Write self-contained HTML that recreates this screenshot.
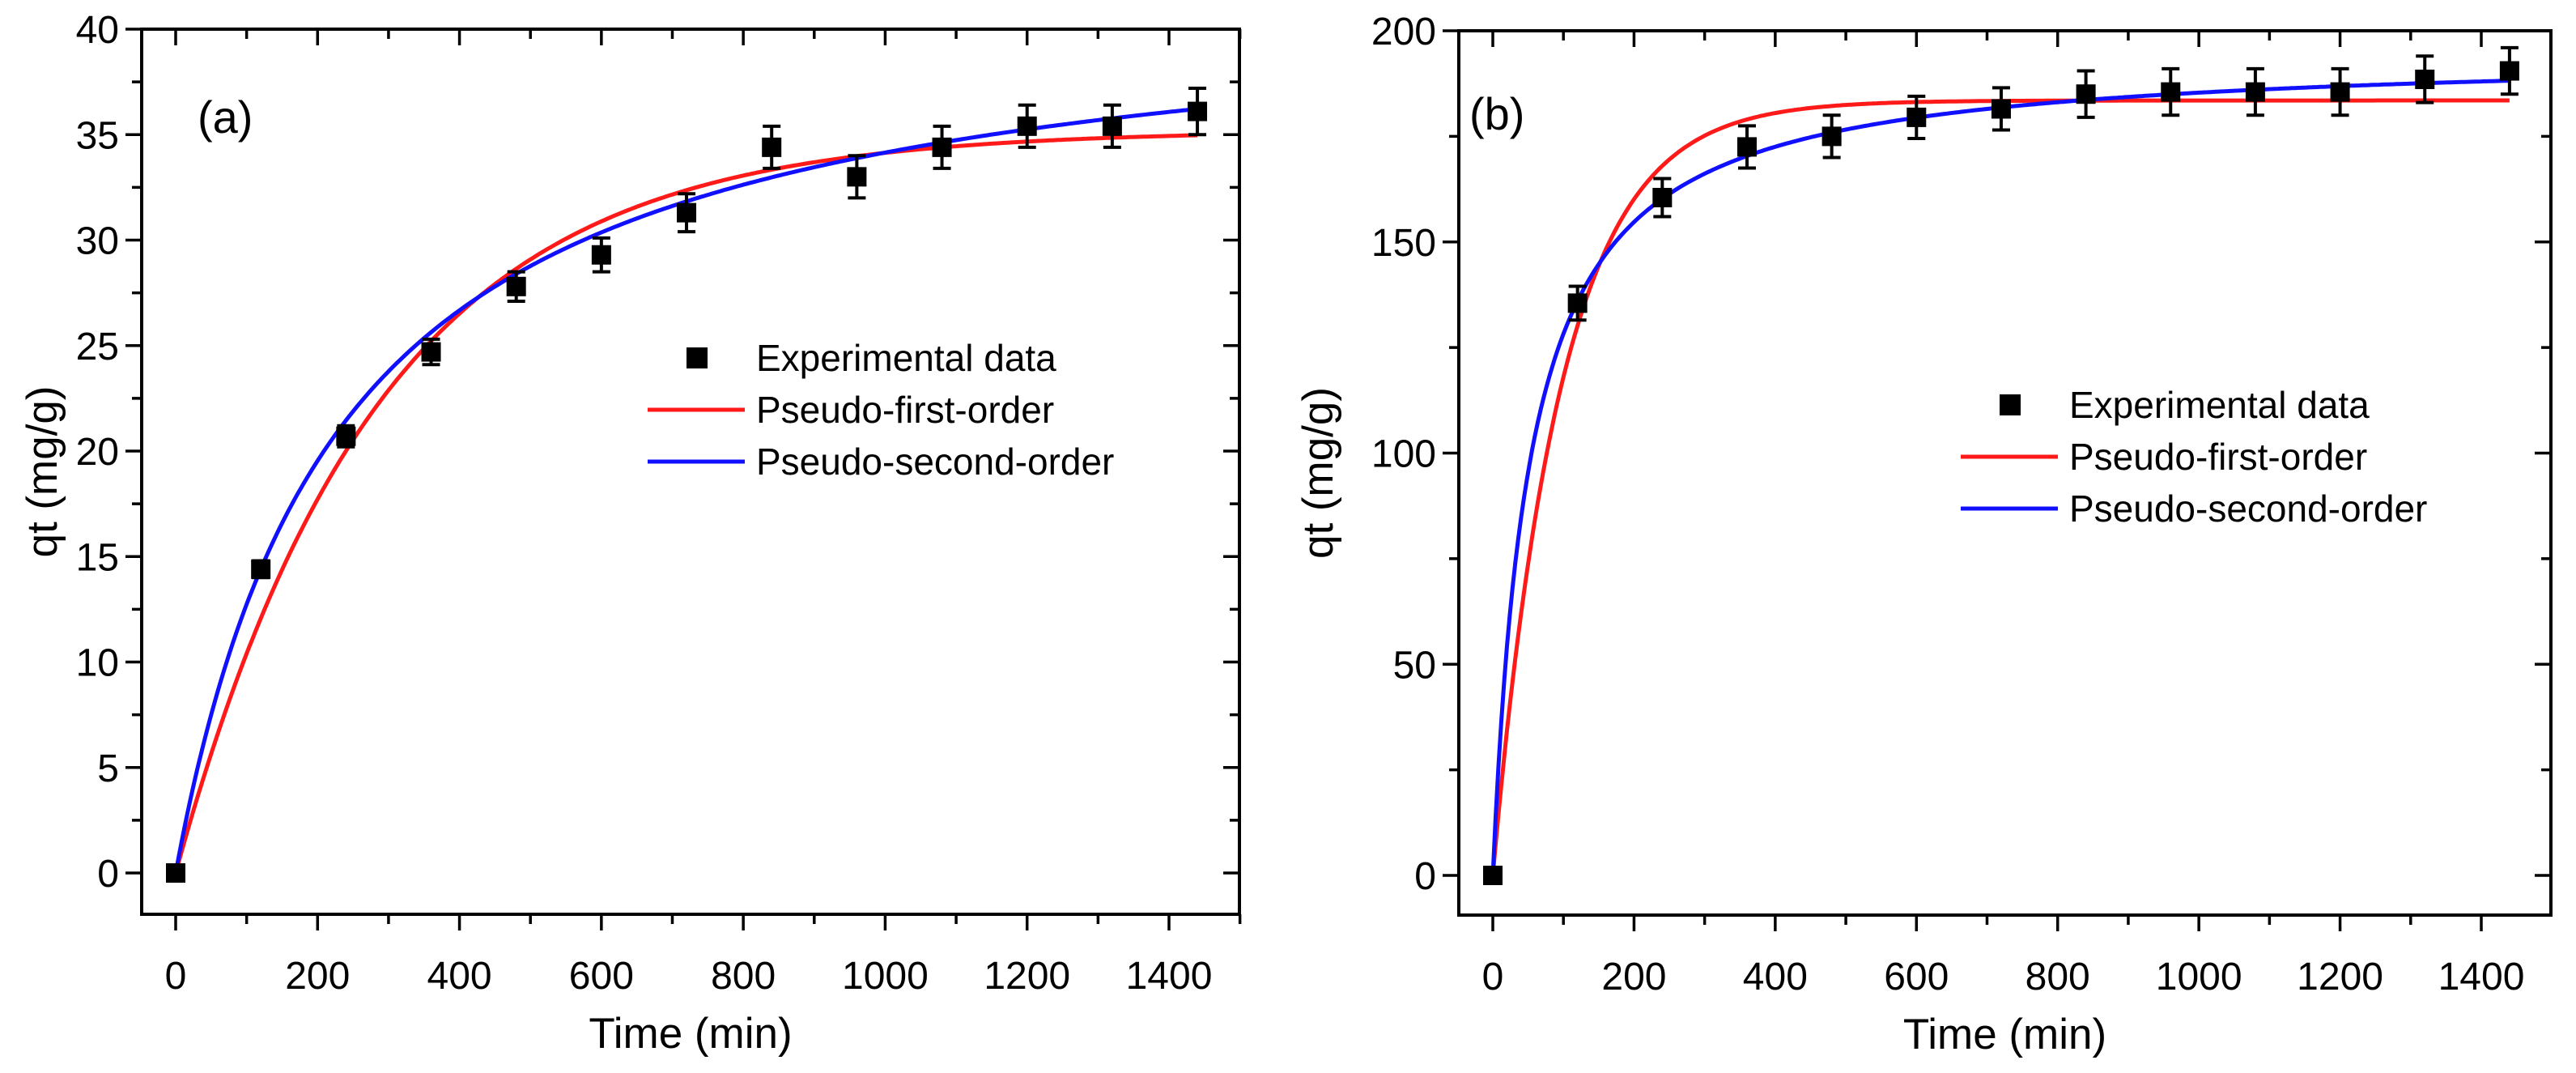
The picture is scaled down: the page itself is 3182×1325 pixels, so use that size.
<!DOCTYPE html>
<html><head><meta charset="utf-8"><style>
html,body{margin:0;padding:0;background:#fff;}
svg{display:block;font-family:"Liberation Sans",Arial,sans-serif;}
</style></head><body>
<svg id="chart" width="3182" height="1325" viewBox="0 0 3182 1325" xmlns="http://www.w3.org/2000/svg"></svg>
<script>
const times = [0,120,240,360,480,600,720,840,960,1080,1200,1320,1440];
const qA = [0,14.4,20.7,24.7,27.8,29.3,31.3,34.4,33.0,34.4,35.4,35.4,36.1];
const errA = [0.2,0.4,0.5,0.6,0.7,0.8,0.9,1.0,1.0,1.0,1.0,1.0,1.1];
const qB = [0,135.5,160.5,172.5,175,179.5,181.5,185,185.5,185.5,185.5,188.5,190.5];
const errB = [1,4,4.5,5,5,5,5,5.5,5.5,5.5,5.5,5.5,5.5];
const pfoA = [35.2, 0.0035];   // qe, k1
const psoA = [42.0, 0.00435];  // qe, qe*k2
const pfoB = [183.5, 0.0103];
const psoB = [195.0, 0.0192];
const xTicks = [0,200,400,600,800,1000,1200,1400];
const yTicksA = [0,5,10,15,20,25,30,35,40];
const yTicksB = [0,50,100,150,200];

const NS="http://www.w3.org/2000/svg";
const svg=document.getElementById('chart');
function mk(tag,attrs,parent){const e=document.createElementNS(NS,tag);for(const k in attrs)e.setAttribute(k,attrs[k]);(parent||svg).appendChild(e);return e;}

function panel(cfg){
  const g=mk('g',{});
  
  
  const sx=v=>cfg.x0+(v-0)*(cfg.x1400-cfg.x0)/1400;
  const sy=v=>cfg.y0+(v)*(cfg.yTop-cfg.y0)/cfg.ymax;
  const L=cfg.left,R=cfg.right,T=cfg.top,B=cfg.bottom;
  const fr=mk('rect',{x:L,y:T,width:R-L,height:B-T,fill:'none',stroke:'#000','stroke-width':4},g);
  
  
  for(let v=-100;v<=1500;v+=100){
    const x=sx(v); if(x<L-1||x>R+1) continue;
    const major=v%200===0, len=major?20:12;
    mk('line',{x1:x,y1:B,x2:x,y2:B+len,stroke:'#000','stroke-width':3.5},g);
    mk('line',{x1:x,y1:T,x2:x,y2:T+len,stroke:'#000','stroke-width':3.5},g);
  }
  xTicks.forEach(v=>{
    const t=mk('text',{x:sx(v),y:B+92,'font-size':48,'text-anchor':'middle'},g);
    t.textContent=v;
    
    
  });
  const step=cfg.ystep/2;
  for(let v=-step;v<=cfg.ymax;v+=step){
    const y=sy(v); if(y>B+1||y<T-1) continue;
    const major=Math.abs(v/cfg.ystep-Math.round(v/cfg.ystep))<1e-6, len=major?20:12;
    mk('line',{x1:L,y1:y,x2:L-len,y2:y,stroke:'#000','stroke-width':3.5},g);
    mk('line',{x1:R,y1:y,x2:R-len,y2:y,stroke:'#000','stroke-width':3.5},g);
  }
  cfg.yTicks.forEach(v=>{
    const t=mk('text',{x:L-28,y:sy(v)+17,'font-size':48,'text-anchor':'end'},g);
    t.textContent=v;
    
    
  });
  function curve(fn,color,name){
    let d='';
    for(let t=0;t<=1440;t+=4){d+=(t?'L':'M')+sx(t).toFixed(1)+','+sy(fn(t)).toFixed(1);}
    const p=mk('path',{d:d,fill:'none',stroke:color,'stroke-width':5},g);
    
    
  }
  const pf=cfg.pfo, ps=cfg.pso;
  curve(t=>pf[0]*(1-Math.exp(-pf[1]*t)),'#ff1a1a','pseudo-first-order-curve');
  curve(t=>ps[0]*ps[1]*t/(1+ps[1]*t),'#1010ff','pseudo-second-order-curve');
  cfg.q.forEach((v,i)=>{
    const x=sx(times[i]),y=sy(v),e=cfg.err[i];
    const pg=mk('g',{},g);
    
    
    const y1=sy(v+e),y2=sy(v-e);
    mk('line',{x1:x,y1:y1,x2:x,y2:y2,stroke:'#000','stroke-width':4},pg);
    mk('line',{x1:x-11,y1:y1,x2:x+11,y2:y1,stroke:'#000','stroke-width':4},pg);
    mk('line',{x1:x-11,y1:y2,x2:x+11,y2:y2,stroke:'#000','stroke-width':4},pg);
    mk('rect',{x:x-12,y:y-12,width:24,height:24,fill:'#000'},pg);
  });
  const lg=mk('g',{},g);
  
  
  const lx=cfg.legX,ly=cfg.legY;
  mk('rect',{x:lx-13,y:ly-13,width:26,height:26,fill:'#000'},lg);
  mk('line',{x1:lx-61,y1:ly+64,x2:lx+59,y2:ly+64,stroke:'#ff1a1a','stroke-width':5},lg);
  mk('line',{x1:lx-61,y1:ly+128,x2:lx+59,y2:ly+128,stroke:'#1010ff','stroke-width':5},lg);
  const labels=['Experimental data','Pseudo-first-order','Pseudo-second-order'];
  labels.forEach((s,i)=>{
    const t=mk('text',{x:lx+73,y:ly+16+64*i,'font-size':46},lg);
    t.textContent=s;
    
    
  });
  const xt=mk('text',{x:(L+R)/2,y:B+165,'font-size':53,'text-anchor':'middle'},g);
  xt.textContent='Time (min)';
  
  
  const yt=mk('text',{x:0,y:0,'font-size':53,'text-anchor':'middle',transform:`translate(${cfg.ytX},${(T+B)/2}) rotate(-90)`},g);
  yt.textContent='qt (mg/g)';
  
  
  const pl=mk('text',{x:cfg.lab[0],y:cfg.lab[1],'font-size':56},g);
  pl.textContent=cfg.label;
  
  
}

panel({name:'panel-a',left:175,right:1531,top:36,bottom:1129,x0:217,x1400:1444,y0:1078,yTop:36,ymax:40,ystep:5,yTicks:yTicksA,
  q:qA,err:errA,pfo:pfoA,pso:psoA,legX:861,legY:442,ytX:70,lab:[244,164],label:'(a)'});
panel({name:'panel-b',left:1802,right:3151,top:38,bottom:1130,x0:1844,x1400:3065,y0:1081,yTop:38,ymax:200,ystep:50,yTicks:yTicksB,
  q:qB,err:errB,pfo:pfoB,pso:psoB,legX:2483,legY:500,ytX:1646,lab:[1815,160],label:'(b)'});
</script>
</body></html>
